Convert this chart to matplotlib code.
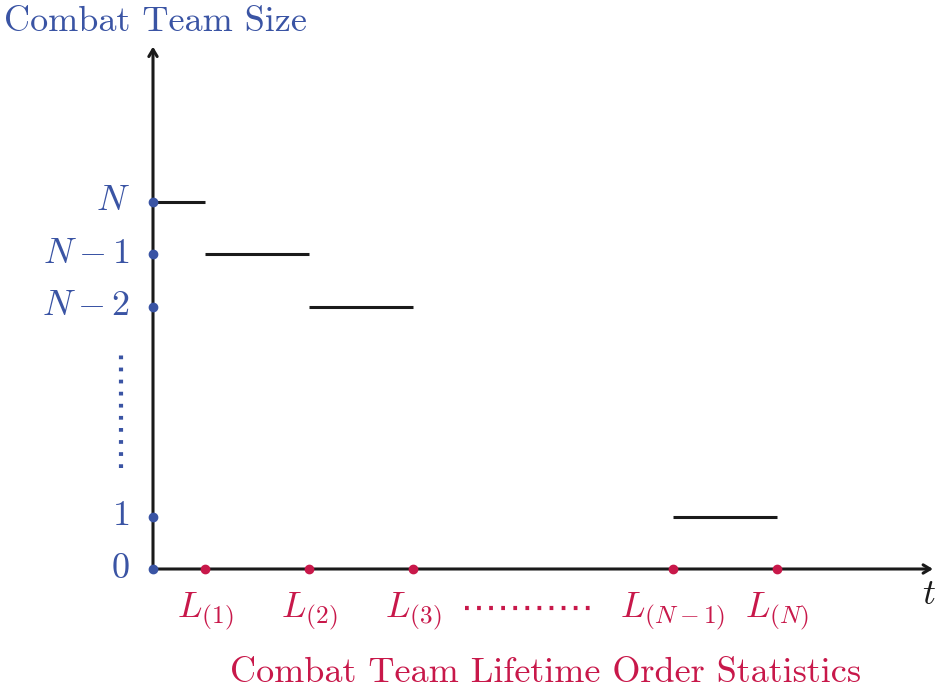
import matplotlib
matplotlib.use("Agg")
from matplotlib import pyplot as plt

plt.rcParams['font.family'] = 'serif'
plt.rcParams['font.serif'] = ['cmr10']
plt.rcParams['mathtext.fontset'] = 'cm'

# step levels of team size (y units) and order statistic positions (x units)
level_labels = [r'$N$', r'$N-1$', r'$N-2$', r'$1$', r'$0$']
level_values = [7, 6, 5, 1, 0]

order_labels = [r'$L_{(1)}$', r'$L_{(2)}$', r'$L_{(3)}$', r'$L_{(N-1)}$', r'$L_{(N)}$']
order_values = [1, 3, 5, 10, 12]

# horizontal segments: (start, end, level)
seg_start = [0, 1, 3, 10]
seg_end = [1, 3, 5, 12]
seg_level = [7, 6, 5, 1]

blue = '#3a54a4'
red = '#c8184a'
black = '#1a1a1a'
fs = 26

fig = plt.figure(figsize=(9.42, 6.92), dpi=100)
ax = fig.add_axes([0, 0, 1, 1])
ax.set_xlim(-153 / 52, (942 - 153) / 52)
ax.set_ylim(-123 / 52.5, (692 - 123) / 52.5)
ax.axis('off')

# axes with arrows
ax.annotate('', xy=(15.0, 0), xytext=(0, 0),
            arrowprops=dict(arrowstyle='->,head_length=0.5,head_width=0.3', lw=2.2, color=black,
                            shrinkA=0, shrinkB=0))
ax.annotate('', xy=(0, 9.95), xytext=(0, 0),
            arrowprops=dict(arrowstyle='->,head_length=0.5,head_width=0.3', lw=2.2, color=black,
                            shrinkA=0, shrinkB=0))

for a, b, lv in zip(seg_start, seg_end, seg_level):
    ax.plot([a, b], [lv, lv], color=black, lw=2.2, solid_capstyle='butt')

ax.plot([0] * len(level_values), level_values, 'o', color=blue, ms=6, zorder=5)
ax.plot(order_values, [0] * len(order_values), 'o', color=red, ms=6, zorder=5)

for lab, v in zip(level_labels, level_values):
    ax.text(-0.45, v, lab, color=blue, fontsize=fs, ha='right', va='center')

for lab, v in zip(order_labels, order_values):
    ax.text(v, -0.4, lab, color=red, fontsize=fs, ha='center', va='top')

# ellipsis dots
ax.plot([-0.615, -0.615], [1.92, 4.21], color=blue, lw=3, ls=(0, (0.9, 2.0)))
ax.plot([6.0, 8.5], [-0.74, -0.74], color=red, lw=3, ls=(0, (0.9, 2.0)))

ax.text(14.92, -0.5, r'$t$', color=black, fontsize=fs, ha='center', va='center')

ax.text(-2.87, 10.42, 'Combat Team Size', color=blue, fontsize=fs, ha='left', va='center')
ax.text(7.55, -1.98, 'Combat Team Lifetime Order Statistics', color=red, fontsize=fs,
        ha='center', va='center')

fig.savefig('out.png', dpi=100)
